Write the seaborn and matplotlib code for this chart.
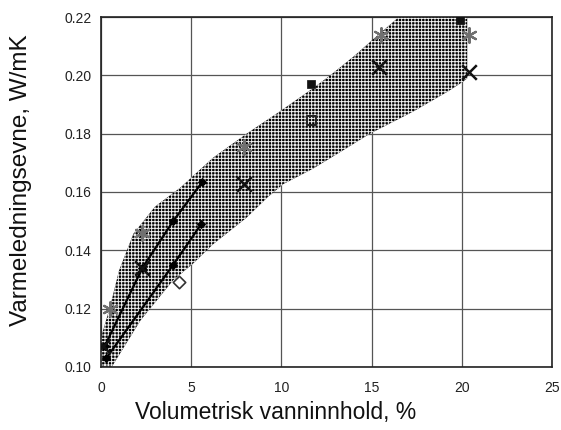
import numpy as np
import pandas as pd
import matplotlib
matplotlib.use("Agg")
import matplotlib.pyplot as plt
import seaborn as sns

# Band (envelope) boundaries
band_upper_x = [0.0, 0.5, 1.0, 1.8, 3.0, 4.4, 6.2, 8.07, 9.9, 11.75, 12.7, 14.0, 15.1, 16.5, 20.3]
band_upper_y = [0.110, 0.1205, 0.133, 0.1457, 0.155, 0.1615, 0.1717, 0.180, 0.1876, 0.1956, 0.200, 0.2065, 0.2125, 0.220, 0.220]
band_lower_x = [20.3, 20.1, 19.2, 17.3, 14.9, 13.6, 11.75, 10.1, 9.2, 8.07, 6.2, 5.1, 4.0, 2.2, 0.6, 0.0]
band_lower_y = [0.199, 0.198, 0.1944, 0.1876, 0.180, 0.175, 0.168, 0.1627, 0.158, 0.1512, 0.142, 0.1354, 0.1297, 0.116, 0.100, 0.100]

# Measurement series
asterisk_x = [0.5, 2.3, 7.95, 15.5, 20.4]
asterisk_y = [0.120, 0.146, 0.1753, 0.214, 0.214]
cross_x = [0.1, 2.3, 7.95, 15.4, 20.4]
cross_y = [0.107, 0.134, 0.1627, 0.2029, 0.2011]
filled_sq_x = [11.65, 19.9]
filled_sq_y = [0.1972, 0.219]
open_sq_x = [11.65]
open_sq_y = [0.1845]
open_dia_x = [4.3]
open_dia_y = [0.129]
lineA_x = [0.2, 2.3, 4.0, 5.6]
lineA_y = [0.107, 0.134, 0.150, 0.1633]
lineB_x = [0.3, 4.0, 5.55]
lineB_y = [0.103, 0.135, 0.1489]

x_ticks = [0, 5, 10, 15, 20, 25]
y_ticks = [0.10, 0.12, 0.14, 0.16, 0.18, 0.20, 0.22]

sns.set_theme(style="white")
plt.rcParams['font.family'] = ['Liberation Sans', 'DejaVu Sans']
plt.rcParams['hatch.linewidth'] = 0.7

fig = plt.figure(figsize=(5.61, 4.30), dpi=100)
ax = fig.add_axes([0.180, 0.147, 0.804, 0.813])

poly_x = band_upper_x + band_lower_x
poly_y = band_upper_y + band_lower_y
ax.fill(poly_x, poly_y, facecolor='#000000', edgecolor='#f0f0f0', hatch='+++++', linewidth=0, zorder=2)

sns.lineplot(x=lineA_x, y=lineA_y, ax=ax, color='black', linewidth=1.6, marker='D',
             markersize=4, markeredgecolor='black', zorder=4, sort=False)
sns.lineplot(x=lineB_x, y=lineB_y, ax=ax, color='black', linewidth=1.6, marker='D',
             markersize=4, markeredgecolor='black', zorder=4, sort=False)
sns.scatterplot(x=asterisk_x, y=asterisk_y, ax=ax, marker=(6, 2, 0), s=110, color='#707070',
                linewidth=1.6, zorder=5)
sns.scatterplot(x=cross_x, y=cross_y, ax=ax, marker='x', s=110, color='#111111',
                linewidth=1.8, zorder=5)
sns.scatterplot(x=filled_sq_x, y=filled_sq_y, ax=ax, marker='s', s=40, color='#111111',
                edgecolor='#111111', zorder=5)
sns.scatterplot(x=open_sq_x, y=open_sq_y, ax=ax, marker='s', s=45, facecolor='none',
                edgecolor='#222222', linewidth=1.4, zorder=5)
sns.scatterplot(x=open_dia_x, y=open_dia_y, ax=ax, marker='D', s=40, facecolor='white',
                edgecolor='#333333', linewidth=1.2, zorder=5)

ax.set_xlim(0, 25)
ax.set_ylim(0.10, 0.22)
ax.set_xticks(x_ticks)
ax.set_yticks(y_ticks)
ax.set_xticklabels([str(t) for t in x_ticks])
ax.set_yticklabels([f"{t:.2f}" for t in y_ticks])
ax.grid(True, color='#555555', linewidth=0.9, zorder=0)
ax.set_axisbelow(True)
for s in ax.spines.values():
    s.set_color('#222222')
    s.set_linewidth(1.2)
ax.tick_params(axis='both', direction='out', length=4, width=1, color='#222222',
               labelsize=10, labelcolor='#222222', pad=6)
ax.tick_params(axis='y', pad=3)

ax.set_xlabel("Volumetrisk vanninnhold, %", fontsize=16.5, color='#111111', va='top')
ax.set_ylabel("Varmeledningsevne, W/mK", fontsize=17.5, color='#111111')
ax.xaxis.set_label_coords(0.388, -0.098)
ax.yaxis.set_label_coords(-0.153, 0.534)

fig.savefig("out.png", dpi=100)
